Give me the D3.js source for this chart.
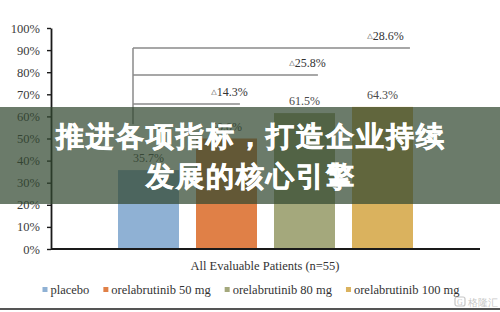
<!DOCTYPE html>
<html>
<head>
<meta charset="utf-8">
<script src="https://cdn.jsdelivr.net/npm/d3@7"></script>
<style>
  html, body { margin: 0; padding: 0; background: #fff; }
  svg { display: block; }
  text { font-family: "Liberation Serif", "DejaVu Serif", serif; }
</style>
</head>
<body>
<svg id="chart" width="500" height="312"></svg>
<script>
// Response rate by dose group
const categories = ["placebo", "orelabrutinib 50 mg", "orelabrutinib 80 mg", "orelabrutinib 100 mg"];
const responseRates = [0.357, 0.500, 0.615, 0.643];
const barColors = ["#8fb1d4", "#e08047", "#a4a87c", "#dab25e"];
// differences versus placebo for each active dose
const deltaGroups = ["orelabrutinib 50 mg", "orelabrutinib 80 mg", "orelabrutinib 100 mg"];
const deltaValues = [0.143, 0.258, 0.286];
const yTicks = [0, 0.1, 0.2, 0.3, 0.4, 0.5, 0.6, 0.7, 0.8, 0.9, 1.0];
const xTitle = "All Evaluable Patients (n=55)";
const bannerLines = ["推进各项指标，打造企业持续", "发展的核心引擎"];

const svg = d3.select("#chart");
const W = 500, H = 312;
const plot = { left: 51, right: 480, top: 28, bottom: 249 };

const x = d3.scaleBand()
  .domain(categories)
  .range([plot.left, plot.right])
  .paddingInner(0.218)
  .paddingOuter(0.859);

const y = d3.scaleLinear().domain([0, 1]).range([plot.bottom, plot.top]);
const fmt = d3.format(".1%");

// y axis
const yAxis = svg.append("g")
  .attr("transform", `translate(${plot.left},0)`)
  .call(d3.axisLeft(y).tickValues(yTicks).tickFormat(d3.format(".0%")).tickSize(4).tickPadding(7).tickSizeOuter(0));
yAxis.select(".domain").attr("stroke", "#1a1a1a").attr("stroke-width", 1.8);
yAxis.selectAll(".tick line").attr("stroke", "#1a1a1a").attr("stroke-width", 1.4);
yAxis.selectAll(".tick text")
  .attr("font-family", "Liberation Serif, serif")
  .attr("font-size", 12.5)
  .attr("fill", "#3a3a3a");

// bars
svg.append("g").selectAll("rect")
  .data(categories)
  .join("rect")
  .attr("x", d => x(d))
  .attr("width", x.bandwidth())
  .attr("y", (d, i) => y(responseRates[i]))
  .attr("height", (d, i) => y(0) - y(responseRates[i]))
  .attr("fill", (d, i) => barColors[i]);

// value labels
svg.append("g").selectAll("text")
  .data(categories)
  .join("text")
  .attr("x", d => x(d) + x.bandwidth() / 2)
  .attr("y", (d, i) => y(responseRates[i]) - 8)
  .attr("text-anchor", "middle")
  .attr("font-size", 12)
  .attr("fill", "#4a4a4a")
  .text((d, i) => fmt(responseRates[i]));

// x axis baseline
svg.append("line")
  .attr("x1", plot.left).attr("x2", plot.right)
  .attr("y1", y(0)).attr("y2", y(0))
  .attr("stroke", "#1a1a1a").attr("stroke-width", 2);

// comparison brackets from the placebo group
const bracketLevels = [0.656, 0.787, 0.91];
const bracketEndFrac = [0.72, 0.72, 0.95];
const bracketX = x(categories[0]) + 15;
const br = svg.append("g").attr("stroke", "#8a8a8a").attr("stroke-width", 1.5).attr("fill", "none");
br.append("line")
  .attr("x1", bracketX).attr("x2", bracketX)
  .attr("y1", y(bracketLevels[2])).attr("y2", y(0.565));
deltaGroups.forEach((g, i) => {
  br.append("line")
    .attr("x1", bracketX)
    .attr("x2", x(g) + x.bandwidth() * bracketEndFrac[i])
    .attr("y1", y(bracketLevels[i])).attr("y2", y(bracketLevels[i]));
});
const dl = svg.append("g").selectAll("text")
  .data(deltaGroups)
  .join("text")
  .attr("x", d => x(d) + x.bandwidth() / 2 + 3)
  .attr("y", (d, i) => y(bracketLevels[i]) - 8)
  .attr("text-anchor", "middle")
  .attr("font-size", 12)
  .attr("fill", "#333");
dl.append("tspan").attr("font-size", 7).attr("dy", -2).text("△");
dl.append("tspan").attr("dy", 2).text((d, i) => fmt(deltaValues[i]));

// x axis title
svg.append("text")
  .attr("x", 265).attr("y", 270)
  .attr("text-anchor", "middle")
  .attr("font-size", 12.5)
  .attr("fill", "#333")
  .text(xTitle);

// legend
const legend = svg.append("g");
const items = legend.selectAll("g")
  .data(categories)
  .join("g");
items.append("rect")
  .attr("width", 5).attr("height", 5)
  .attr("y", -7)
  .attr("fill", (d, i) => barColors[i]);
items.append("text")
  .attr("x", 8)
  .attr("font-size", 12.5)
  .attr("fill", "#333")
  .text(d => d);
let cursor = 0;
const offsets = [];
items.each(function () {
  offsets.push(cursor);
  const w = 8 + this.querySelector("text").getComputedTextLength();
  cursor += w + 14;
});
const totalW = cursor - 14;
items.attr("transform", (d, i) => `translate(${offsets[i]},0)`);
legend.attr("transform", `translate(${251 - totalW / 2},294)`);

// bottom rule
svg.append("rect")
  .attr("x", 0).attr("y", 308).attr("width", W).attr("height", 2)
  .attr("fill", "#555");

// watermark
const wm = svg.append("g").attr("transform", "translate(455,297)").attr("opacity", 0.55);
wm.append("rect")
  .attr("width", 10).attr("height", 9).attr("rx", 2)
  .attr("fill", "none").attr("stroke", "#999").attr("stroke-width", 1.2);
wm.append("text")
  .attr("x", 5).attr("y", 7.5).attr("text-anchor", "middle")
  .attr("font-size", 8).attr("font-family", "DejaVu Sans, sans-serif").attr("fill", "#999")
  .text("G");
wm.append("text")
  .attr("x", 13).attr("y", 8.5)
  .attr("font-size", 9.5)
  .attr("font-family", "Noto Sans CJK SC, sans-serif")
  .attr("fill", "#999")
  .text("格隆汇");

// headline banner
svg.append("rect")
  .attr("x", 0).attr("y", 107).attr("width", W).attr("height", 97)
  .attr("fill", "rgb(50,72,48)").attr("fill-opacity", 0.72);
svg.append("g").selectAll("text")
  .data(bannerLines)
  .join("text")
  .attr("x", W / 2 + 1)
  .attr("y", (d, i) => 146 + i * 40)
  .attr("text-anchor", "middle")
  .attr("font-family", "Noto Sans CJK SC, sans-serif")
  .attr("font-weight", 900)
  .attr("font-size", 28)
  .attr("letter-spacing", 2)
  .attr("fill", "#fff")
  .attr("stroke", "#fff")
  .attr("stroke-width", 0.6)
  .text(d => d);
</script>
</body>
</html>
